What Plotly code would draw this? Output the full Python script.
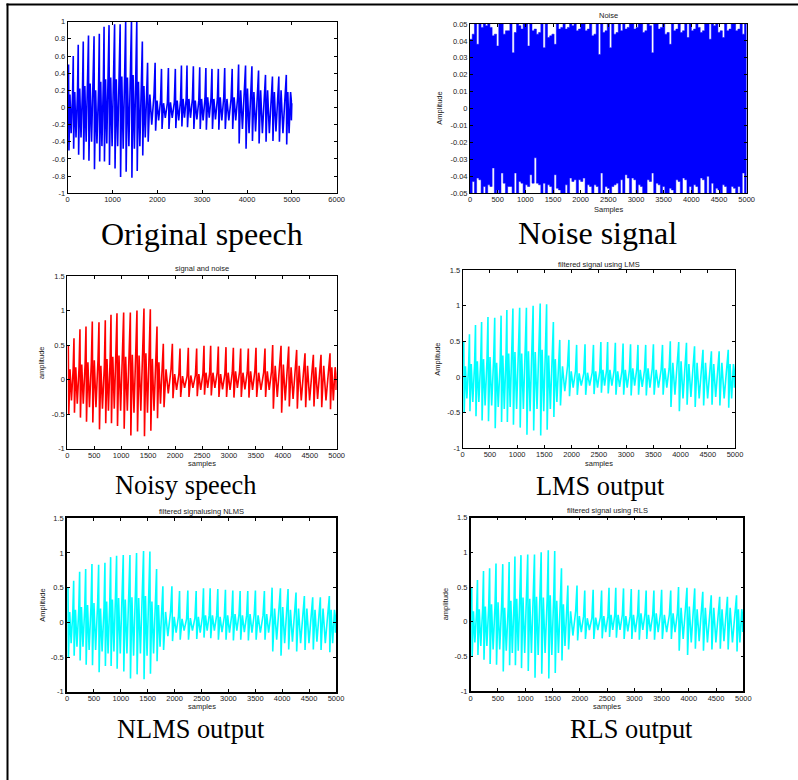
import plotly.graph_objects as go

W, H = 798, 780

# ---------------- data ----------------
# speech: one entry per pitch period (sample index of the main spike)
cycle_x = [19, 124, 235, 347, 464, 588, 705, 811, 922, 1046, 1170, 1293, 1423, 1541,
           1665, 1782, 1950, 2092, 2246, 2401, 2537, 2661, 2803, 2945, 3082, 3218,
           3360, 3502, 3669, 3812, 3967, 4109, 4257, 4412, 4567, 4709, 4876, 4988]
peak = [0.50, 0.60, 0.73, 0.77, 0.84, 0.83, 0.86, 0.94, 0.96, 0.97, 0.97, 1.00, 1.03, 1.02,
        0.77, 0.52, 0.52, 0.45, 0.46, 0.45, 0.49, 0.49, 0.48, 0.47, 0.46, 0.45,
        0.45, 0.46, 0.45, 0.50, 0.49, 0.48, 0.43, 0.38, 0.36, 0.36, 0.38, 0.08]
trough = [-0.50, -0.48, -0.55, -0.61, -0.62, -0.72, -0.63, -0.63, -0.67, -0.71, -0.81, -0.75, -0.82, -0.74,
          -0.56, -0.40, -0.27, -0.25, -0.25, -0.24, -0.22, -0.23, -0.25, -0.25, -0.26, -0.25,
          -0.26, -0.25, -0.25, -0.42, -0.48, -0.39, -0.42, -0.40, -0.39, -0.40, -0.43, -0.15]
sub_hi = [0.15, 0.18, 0.22, 0.25, 0.28, 0.20, 0.30, 0.33, 0.35, 0.33, 0.36, 0.35, 0.38, 0.30,
          0.25, 0.15, 0.08, 0.05, 0.06, 0.08, 0.10, 0.10, 0.08, 0.10, 0.12, 0.10,
          0.12, 0.10, 0.12, 0.20, 0.22, 0.18, 0.20, 0.20, 0.18, 0.20, 0.18, 0.05]
sub_lo = [-0.30, -0.35, -0.35, -0.40, -0.40, -0.42, -0.45, -0.42, -0.45, -0.45, -0.48, -0.45, -0.48, -0.45,
          -0.35, -0.20, -0.15, -0.12, -0.12, -0.15, -0.12, -0.12, -0.14, -0.15, -0.12, -0.14,
          -0.15, -0.15, -0.15, -0.25, -0.30, -0.28, -0.30, -0.30, -0.28, -0.30, -0.30, -0.10]
speech_end = 5000

# noise: upper / lower extent in consecutive 40-sample bins
noise_bin = 40
noise_top = [0.041, 0.044, 0.05, 0.038, 0.05, 0.048, 0.05, 0.049, 0.05, 0.048,
             0.043, 0.044, 0.037, 0.05, 0.05, 0.044, 0.046, 0.046, 0.05, 0.033,
             0.045, 0.05, 0.049, 0.047, 0.05, 0.05, 0.037, 0.05, 0.046, 0.047,
             0.044, 0.045, 0.05, 0.036, 0.05, 0.042, 0.043, 0.044, 0.038, 0.05,
             0.047, 0.048, 0.05, 0.047, 0.048, 0.05, 0.049, 0.05, 0.046, 0.047,
             0.05, 0.05, 0.046, 0.047, 0.05, 0.043, 0.044, 0.05, 0.032, 0.05,
             0.045, 0.046, 0.05, 0.036, 0.05, 0.044, 0.045, 0.05, 0.046, 0.05,
             0.047, 0.048, 0.05, 0.05, 0.047, 0.048, 0.05, 0.05, 0.045, 0.046,
             0.05, 0.049, 0.033, 0.05, 0.05, 0.047, 0.048, 0.05, 0.044, 0.045,
             0.038, 0.05, 0.046, 0.047, 0.05, 0.045, 0.046, 0.05, 0.042, 0.05,
             0.046, 0.047, 0.05, 0.048, 0.045, 0.046, 0.05, 0.05, 0.041, 0.05,
             0.049, 0.05, 0.045, 0.046, 0.042, 0.05, 0.046, 0.047, 0.05, 0.05,
             0.046, 0.047, 0.05, 0.044, 0.05, 0.05]
noise_bot = [-0.05, -0.043, -0.05, -0.041, -0.042, -0.05, -0.046, -0.05, -0.045, -0.046,
             -0.035, -0.05, -0.048, -0.05, -0.038, -0.044, -0.05, -0.046, -0.046, -0.05,
             -0.038, -0.05, -0.043, -0.044, -0.05, -0.045, -0.046, -0.039, -0.044, -0.029,
             -0.044, -0.045, -0.05, -0.044, -0.05, -0.045, -0.046, -0.05, -0.039, -0.047,
             -0.048, -0.05, -0.05, -0.045, -0.05, -0.041, -0.043, -0.042, -0.05, -0.042,
             -0.043, -0.041, -0.05, -0.045, -0.046, -0.05, -0.045, -0.046, -0.05, -0.038,
             -0.05, -0.046, -0.047, -0.05, -0.046, -0.045, -0.044, -0.05, -0.042, -0.05,
             -0.039, -0.041, -0.05, -0.041, -0.042, -0.05, -0.045, -0.046, -0.05, -0.05,
             -0.042, -0.043, -0.038, -0.05, -0.044, -0.045, -0.05, -0.046, -0.05, -0.05,
             -0.047, -0.048, -0.05, -0.042, -0.043, -0.05, -0.041, -0.042, -0.05, -0.046,
             -0.05, -0.045, -0.046, -0.05, -0.041, -0.042, -0.05, -0.040, -0.05, -0.044,
             -0.05, -0.047, -0.048, -0.05, -0.045, -0.046, -0.05, -0.05, -0.046, -0.047,
             -0.05, -0.046, -0.05, -0.038, -0.05, -0.05]

# tick values / labels
x_ticks_6000 = [0, 1000, 2000, 3000, 4000, 5000, 6000]
x_ticks_5000 = [0, 500, 1000, 1500, 2000, 2500, 3000, 3500, 4000, 4500, 5000]
y_ticks_p1 = [-1, -0.8, -0.6, -0.4, -0.2, 0, 0.2, 0.4, 0.6, 0.8, 1]
y_labels_p1 = ["-1", "-0.8", "-0.6", "-0.4", "-0.2", "0", "0.2", "0.4", "0.6", "0.8", "1"]
y_ticks_noise = [-0.05, -0.04, -0.03, -0.02, -0.01, 0, 0.01, 0.02, 0.03, 0.04, 0.05]
y_labels_noise = ["-0.05", "-0.04", "-0.03", "-0.02", "-0.01", "0", "0.01", "0.02", "0.03", "0.04", "0.05"]
y_ticks_15 = [-1, -0.5, 0, 0.5, 1, 1.5]
y_labels_15 = ["-1", "-0.5", "0", "0.5", "1", "1.5"]

captions = ["Original speech", "Noise signal", "Noisy speech", "LMS output", "NLMS output", "RLS output"]
small_titles = ["", "Noise", "signal and noise", "filtered signal using LMS",
                "filtered signalusing NLMS", "filtered signal using RLS"]
x_titles = ["", "Samples", "samples", "samples", "samples", "samples"]
y_titles = ["", "Amplitude", "amplitude", "Amplitude", "Amplitude", "amplitude"]

# ---------------- build the speech polyline ----------------
# within a pitch period: main spike, its trough, then one secondary swing
PHASE = [0.0, 0.08, 0.3, 0.55, 0.85]


def speech_wave():
    xs, ys = [], []
    for i, x0 in enumerate(cycle_x):
        x1 = cycle_x[i + 1] if i + 1 < len(cycle_x) else speech_end
        per = x1 - x0
        vals = [peak[i], trough[i], sub_hi[i], sub_lo[i], sub_hi[i]]
        for f, v in zip(PHASE, vals):
            xs.append(x0 + f * per)
            ys.append(v)
    return xs, ys


sx, sy = speech_wave()
nx = [i * noise_bin for i in range(len(noise_top))]

# ---------------- layout helpers ----------------
def px(x):
    return x / W


def py(y):
    return 1 - y / H


# pixel boxes (left, right, top, bottom)
boxes = [
    (67.7, 336.7, 21.7, 193.3),
    (470.0, 746.7, 24.0, 193.3),
    (67.3, 336.7, 276.0, 448.7),
    (462.7, 735.0, 270.0, 448.3),
    (67.0, 336.0, 518.3, 691.7),
    (470.7, 743.3, 517.7, 691.0),
]

TICKFONT = dict(family="Liberation Sans, Arial, sans-serif", size=7.5, color="#222222")
SERIF = "Liberation Serif, Times New Roman, serif"

fig = go.Figure()

axis_specs = [
    (x_ticks_6000, [str(v) for v in x_ticks_6000], [0, 6000], y_ticks_p1, y_labels_p1, [-1, 1]),
    (x_ticks_5000, [str(v) for v in x_ticks_5000], [0, 5000], y_ticks_noise, y_labels_noise, [-0.05, 0.05]),
    (x_ticks_5000, [str(v) for v in x_ticks_5000], [0, 5000], y_ticks_15, y_labels_15, [-1, 1.5]),
    (x_ticks_5000, [str(v) for v in x_ticks_5000], [0, 5000], y_ticks_15, y_labels_15, [-1, 1.5]),
    (x_ticks_5000, [str(v) for v in x_ticks_5000], [0, 5000], y_ticks_15, y_labels_15, [-1, 1.5]),
    (x_ticks_5000, [str(v) for v in x_ticks_5000], [0, 5000], y_ticks_15, y_labels_15, [-1, 1.5]),
]

layout_axes = {}
for k, (box, spec) in enumerate(zip(boxes, axis_specs)):
    l, r, t, b = box
    xt, xl, xr, yt, yl, yr = spec
    n = "" if k == 0 else str(k + 1)
    lw = 1.5 if k >= 4 else 1
    common = dict(showgrid=False, zeroline=False, ticks="inside", ticklen=3, tickwidth=1,
                  tickcolor="black", showline=True, linecolor="black", linewidth=lw,
                  mirror="ticks", tickfont=TICKFONT, tickmode="array", fixedrange=True)
    layout_axes["xaxis" + n] = dict(domain=[px(l), px(r)], range=xr, tickvals=xt, ticktext=xl,
                                    anchor="y" + n, ticklabelstandoff=-1, **common)
    layout_axes["yaxis" + n] = dict(domain=[py(b), py(t)], range=yr, tickvals=yt, ticktext=yl,
                                    anchor="x" + n, **common)

colors = ["#0000ff", None, "#ff0000", "#00ffff", "#00ffff", "#00ffff"]
for k in [0, 2, 3, 4, 5]:
    n = "" if k == 0 else str(k + 1)
    fig.add_trace(go.Scatter(x=sx, y=sy, mode="lines", line=dict(color=colors[k], width=1.6),
                             xaxis="x" + n, yaxis="y" + n, showlegend=False, hoverinfo="skip"))

# noise band
fig.add_trace(go.Scatter(x=nx, y=noise_bot, mode="lines", line=dict(color="#0000ff", width=0.5, shape="hv"),
                         xaxis="x2", yaxis="y2", showlegend=False, hoverinfo="skip"))
fig.add_trace(go.Scatter(x=nx, y=noise_top, mode="lines", line=dict(color="#0000ff", width=0.5, shape="hv"),
                         fill="tonexty", fillcolor="#0000ff",
                         xaxis="x2", yaxis="y2", showlegend=False, hoverinfo="skip"))

annotations = []
# captions (serif, below each panel): (center x, baseline y, size)
cap_pos = [(201.5, 246, 32), (597.5, 245, 32), (185.8, 495.7, 26.4),
           (600.8, 496.7, 26.4), (191.0, 739, 26.4), (631.3, 739, 26.4)]
for txt, (cx, base, size) in zip(captions, cap_pos):
    annotations.append(dict(text=txt, x=px(cx), y=py(base + 0.216 * size + 1), xref="paper", yref="paper",
                            xanchor="center", yanchor="bottom", showarrow=False,
                            font=dict(family=SERIF, size=size, color="black")))

title_y = [None, 15.7, 268.3, 264.0, 511.7, 510.7]
xlab_y = [None, 209.5, 463.5, 463.2, 706.2, 706.2]
ylab_x = [None, 440.0, 41.7, 436.7, 41.7, 445.0]
for k in range(1, 6):
    l, r, t, b = boxes[k]
    annotations.append(dict(text=small_titles[k], x=px((l + r) / 2), y=py(title_y[k]), xref="paper",
                            yref="paper", xanchor="center", yanchor="middle", showarrow=False,
                            font=TICKFONT))
    annotations.append(dict(text=x_titles[k], x=px((l + r) / 2), y=py(xlab_y[k]), xref="paper",
                            yref="paper", xanchor="center", yanchor="middle", showarrow=False,
                            font=TICKFONT))
    annotations.append(dict(text=y_titles[k], x=px(ylab_x[k]), y=py((t + b) / 2), xref="paper",
                            yref="paper", xanchor="center", yanchor="middle", showarrow=False,
                            textangle=-90, font=TICKFONT))

shapes = [
    dict(type="line", xref="paper", yref="paper", x0=px(7.5), x1=px(7.5), y0=py(3.5), y1=py(H),
         line=dict(color="black", width=2)),
    dict(type="line", xref="paper", yref="paper", x0=px(6.5), x1=px(W), y0=py(4.5), y1=py(4.5),
         line=dict(color="black", width=2)),
]

fig.update_layout(width=W, height=H, margin=dict(l=0, r=0, t=0, b=0, autoexpand=False),
                  paper_bgcolor="white", plot_bgcolor="white", showlegend=False,
                  annotations=annotations, shapes=shapes, **layout_axes)

fig.write_html("out.html", config={"displayModeBar": False},
               post_script="document.body.style.margin='0px';document.body.style.overflow='hidden';")
